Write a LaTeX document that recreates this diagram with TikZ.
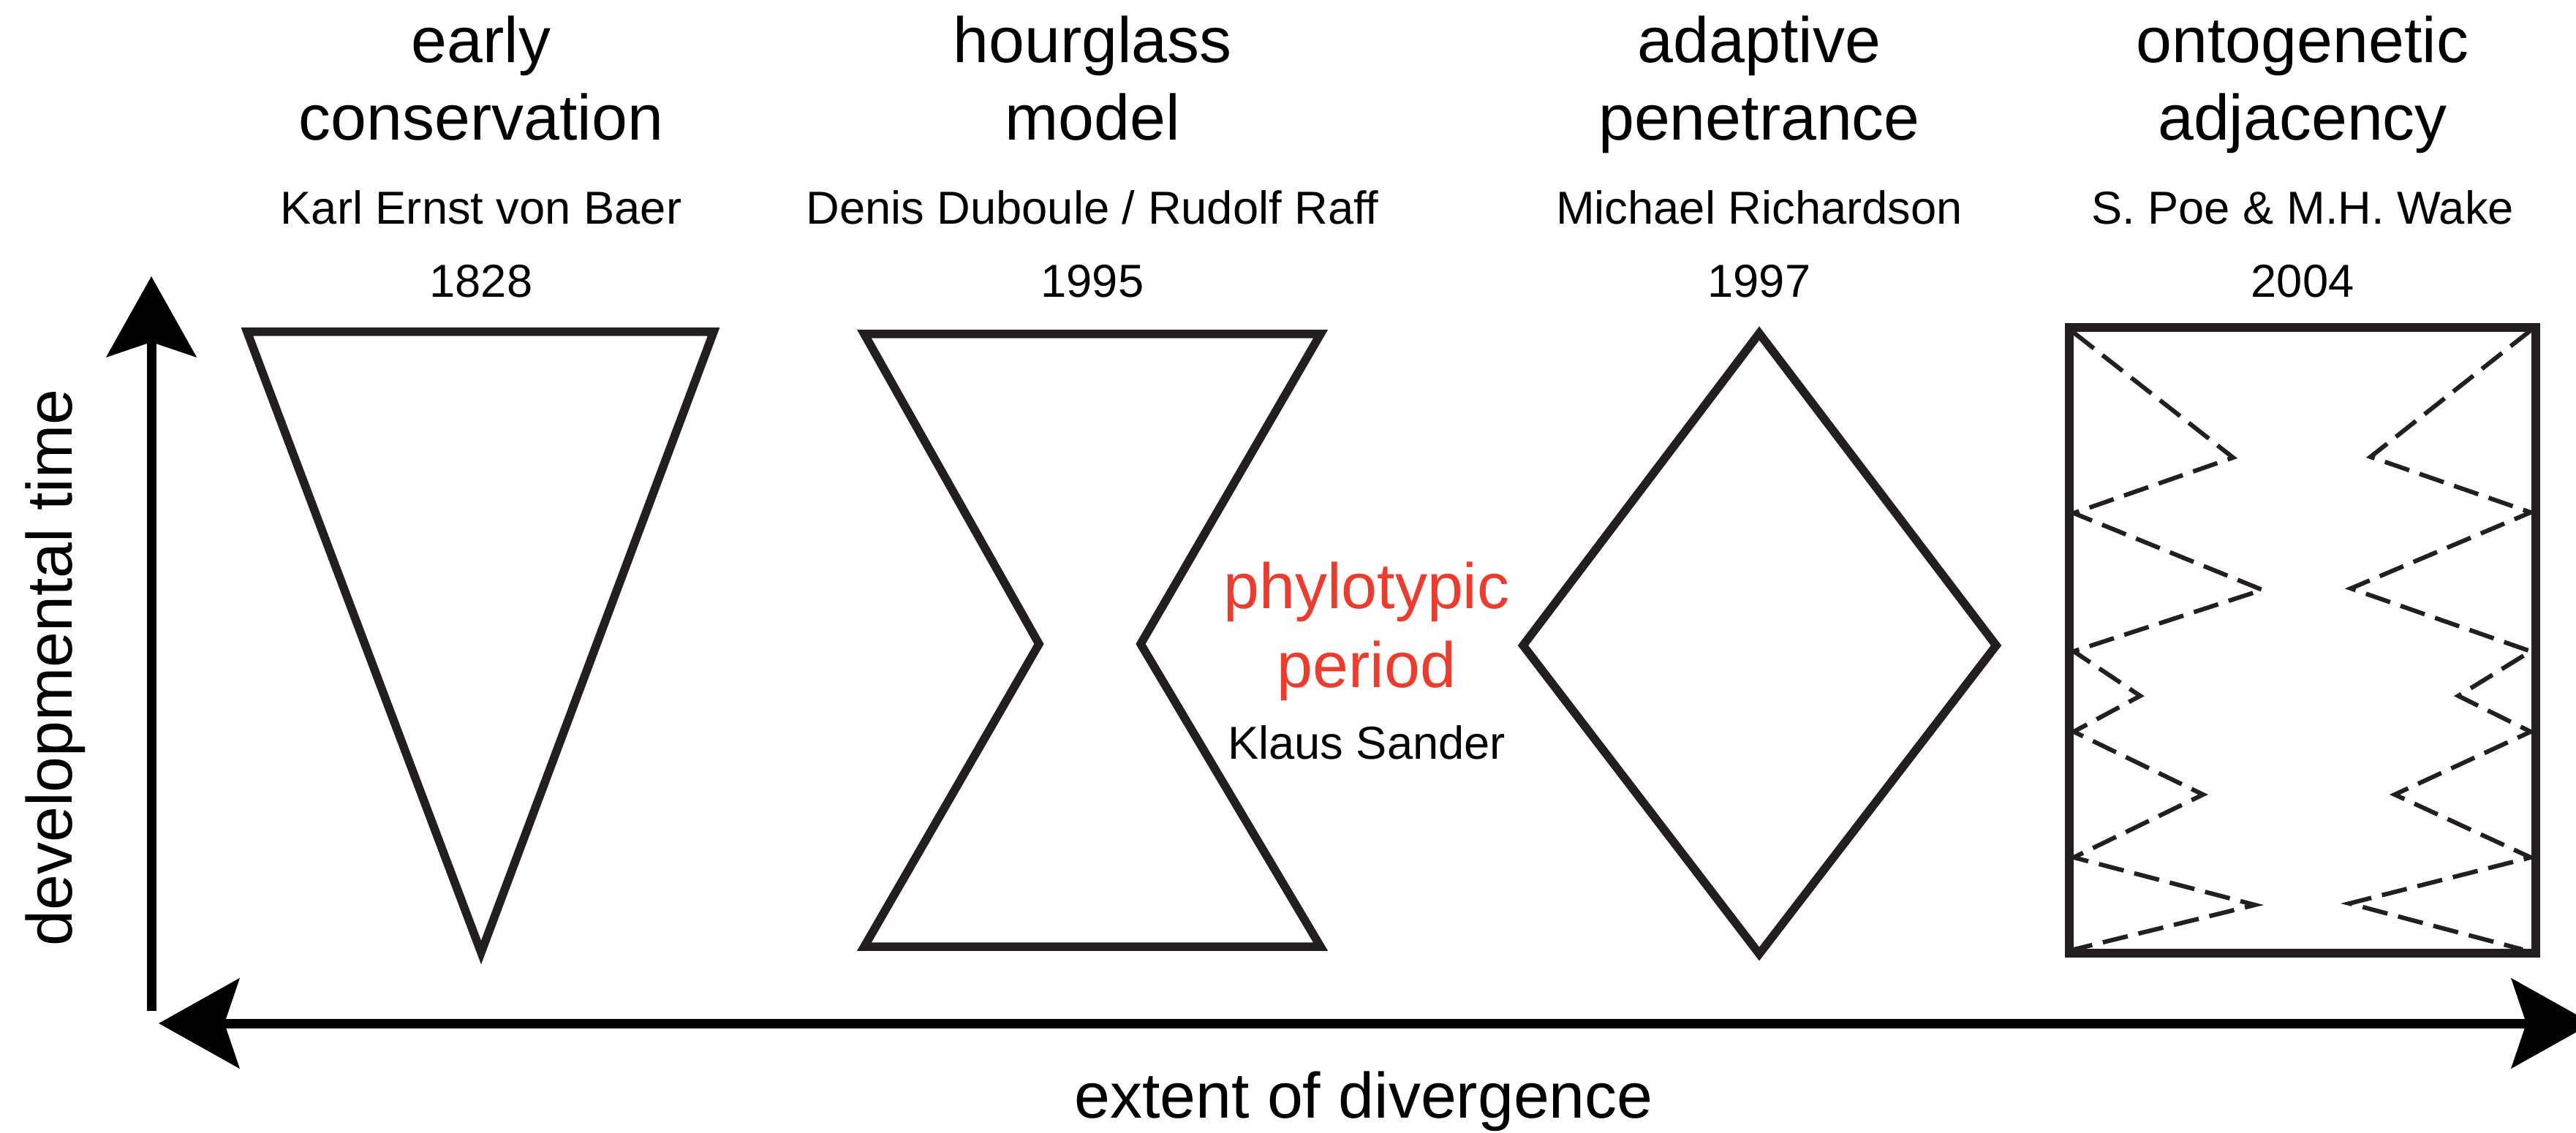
\documentclass[tikz,border=0pt]{standalone}
\usepackage{fontspec}
\setmainfont{Liberation Sans}
\usetikzlibrary{arrows.meta,positioning}
\definecolor{ink}{HTML}{231F20}
\definecolor{phylored}{HTML}{EE3B2B}
\tikzset{
  outline/.style={draw=ink,line width=1.15mm,line join=miter},
  zigzag/.style={draw=ink,line width=0.6mm,dash pattern=on 3.5mm off 1.5mm},
  axis/.style={line width=1.3mm,>={Stealth[length=11mm,width=12.2mm,inset=2mm]}},
  big/.style={inner sep=0pt,anchor=base,font=\fontsize{25}{30}\selectfont},
  small/.style={inner sep=0pt,anchor=base,font=\fontsize{18}{22}\selectfont}
}

\begin{document}
\begin{tikzpicture}
\clip (0,0) rectangle (35.23,15.49);
% axes
\coordinate (time0) at (2.07,1.66);
\coordinate (time1) at (2.07,11.71);
\coordinate (div0) at (2.17,1.49);
\coordinate (div1) at (35.45,1.49);
\draw[axis,->] (time0) -- (time1);
\draw[axis,<->] (div0) -- (div1);
\node[big,rotate=90,anchor=base west] (timelabel) at (0.98,2.54) {developmental time};
\node[big] (divlabel) at (18.65,0.20) {extent of divergence};
% column headings
\foreach \x/\n/\a/\b/\who/\yr in {6.58/1/early/conservation/{Karl Ernst von Baer}/1828,
    14.94/2/hourglass/model/{Denis Duboule / Rudolf Raff}/1995,
    24.06/3/adaptive/penetrance/{Michael Richardson}/1997,
    31.49/4/ontogenetic/adjacency/{S. Poe \& M.H. Wake}/2004}{
  \node[big] (head\n a) at (\x,14.63) {\a};
  \node[big] (head\n b) at (\x,13.57) {\b};
  \node[small] (who\n) at (\x,12.42) {\who};
  \node[small] (year\n) at (\x,11.42) {\yr};
}
% models
\draw[outline] (3.38,10.95) -- (9.76,10.95) -- (6.58,2.46) -- cycle;
\draw[outline] (11.82,10.92) -- (18.06,10.92) -- (15.60,6.68) -- (18.06,2.54)
  -- (11.82,2.54) -- (14.21,6.68) -- cycle;
\draw[outline] (24.06,10.93) -- (27.30,6.66) -- (24.06,2.44) -- (20.83,6.66) -- cycle;
\draw[outline] (28.30,2.45) rectangle (34.68,11.01);
\draw[zigzag] (28.36,10.94) -- (30.54,9.23) -- (28.36,8.47) -- (30.94,7.42) -- (28.36,6.58)
  -- (29.27,5.97) -- (28.36,5.48) -- (30.13,4.62) -- (28.36,3.76) -- (30.84,3.11) -- (28.36,2.50);
\draw[zigzag] (34.61,10.97) -- (32.42,9.24) -- (34.61,8.48) -- (32.15,7.44) -- (34.61,6.58)
  -- (33.62,5.97) -- (34.61,5.48) -- (32.75,4.62) -- (34.61,3.76) -- (32.13,3.13) -- (34.50,2.50);
% phylotypic period
\node[big,text=phylored] (phylo) at (18.69,7.16) {phylotypic};
\node[big,text=phylored] (period) at (18.69,6.09) {period};
\node[small] (sander) at (18.69,5.11) {Klaus Sander};
\end{tikzpicture}
\end{document}
